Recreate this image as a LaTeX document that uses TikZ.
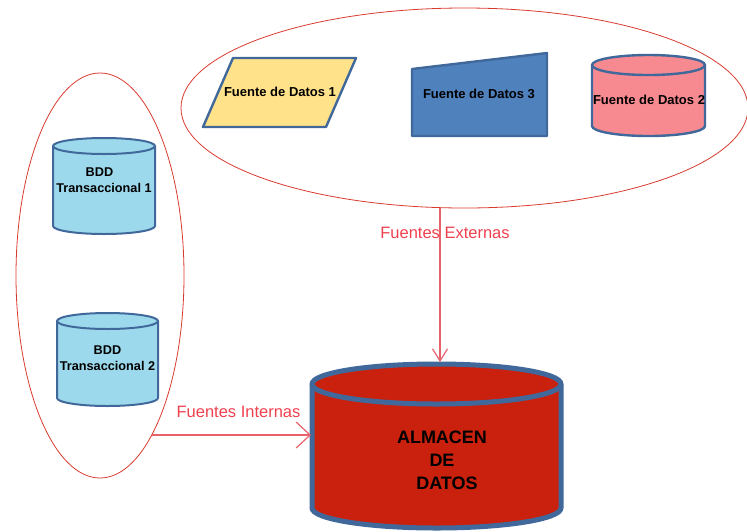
\documentclass[tikz,border=0pt]{standalone}
\usepackage{fontspec}
\setmainfont{Liberation Sans}
\usetikzlibrary{shapes.geometric,arrows.meta}
\definecolor{ellred}{HTML}{D93A2E}
\definecolor{lblred}{HTML}{F0404E}
\definecolor{linered}{HTML}{E8626C}
\definecolor{bordblue}{HTML}{41689A}
\definecolor{yfill}{HTML}{FFE28A}
\definecolor{pfill}{HTML}{F78A90}
\definecolor{bfill}{HTML}{9DD9EC}
\definecolor{dfill}{HTML}{4F81BD}
\definecolor{rfill}{HTML}{C9210D}
\newcommand\dbcyl[6]{%
  \pgfmathsetmacro\cylrx{(#3-#2)/2}%
  \path[#1] (#2,-#5+#6) arc[start angle=180,end angle=360,x radius=\cylrx,y radius=#6]
     -- (#3,-#4-#6) arc[start angle=0,end angle=180,x radius=\cylrx,y radius=#6] -- cycle;
  \path[#1,fill=none] (#2,-#4-#6) arc[start angle=180,end angle=360,x radius=\cylrx,y radius=#6];
}
\tikzset{
  srcshape/.style={draw=bordblue,line width=2.4pt,line join=round},
  groupell/.style={ellipse,draw=ellred,line width=0.8pt,inner sep=0pt},
  srctext/.style={font=\fontsize{13}{15}\selectfont\bfseries,inner sep=0pt},
  bddtext/.style={font=\fontsize{12.7}{16}\selectfont\bfseries,inner sep=0pt,align=center},
  lbl/.style={text=lblred,font=\fontsize{16.5}{19}\selectfont,inner sep=0pt},
  flow/.style={draw=linered,line width=1.4pt}
}
\begin{document}
\begin{tikzpicture}[x=1pt,y=1pt]
\useasboundingbox (0,0) rectangle (747,-531);
% group ellipses
\node[groupell,minimum width=567pt,minimum height=200pt] (ext) at (464.5,-108) {};
\node[groupell,minimum width=168pt,minimum height=405pt] (int) at (100,-275.5) {};
% external sources
\draw[srcshape,fill=yfill] (233,-58) -- (356,-58) -- (326,-127) -- (203,-127) -- cycle;
\node[srctext] (fd1) at (280,-92) {Fuente de Datos 1};
\draw[srcshape,fill=dfill] (412,-69) -- (547,-53) -- (547,-136) -- (412,-136) -- cycle;
\node[srctext] (fd3) at (479,-94) {Fuente de Datos 3};
\dbcyl{srcshape,fill=pfill}{592}{705}{55}{136}{10}
\node[srctext] (fd2) at (649,-100) {Fuente de Datos 2};
% internal sources
\dbcyl{srcshape,line width=2pt,fill=bfill}{53}{155}{138}{234}{8}
\node[bddtext] (bdd1) at (104,-180) {BDD\hspace*{9pt}\\Transaccional 1};
\dbcyl{srcshape,line width=2pt,fill=bfill}{57}{158}{313}{406}{8}
\node[bddtext] (bdd2) at (107.5,-358.5) {BDD\\Transaccional 2};
% warehouse
\dbcyl{srcshape,line width=5pt,fill=rfill}{312}{561}{364}{528}{20}
\node[font=\fontsize{18}{23}\selectfont\bfseries,align=center,inner sep=0pt] (alm) at (442,-460)
  {ALMACEN\\DE\\\hspace*{10pt}DATOS};
\coordinate (almtop) at (440,-362);
\coordinate (almleft) at (311,-435);
\coordinate (intout) at (152,-435);
% connectors
\draw[flow,-{Straight Barb[length=12pt,width=15pt,line width=1.2pt]}] (ext.south -| almtop) -- (almtop);
\draw[flow,-{Straight Barb[length=14pt,width=26pt,line width=1.2pt]}] (intout) -- (almleft);
\node[lbl] (lext) at (445,-233) {Fuentes Externas};
\node[lbl] (lint) at (238.5,-412) {Fuentes Internas};
\end{tikzpicture}
\end{document}
